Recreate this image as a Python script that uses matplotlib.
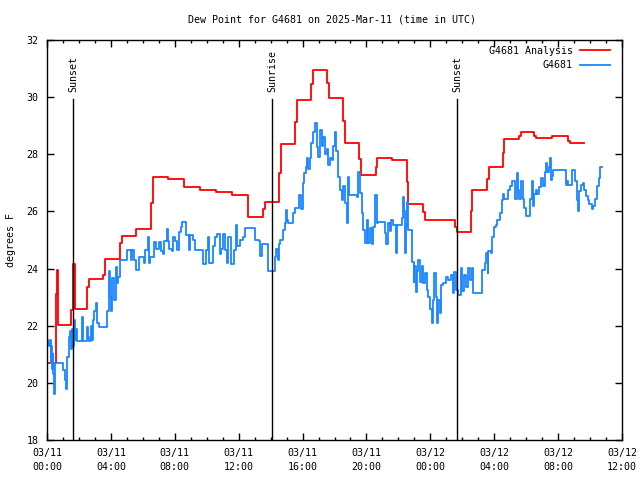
import matplotlib
matplotlib.use('Agg')
import matplotlib.pyplot as plt
from matplotlib.ticker import MultipleLocator

# hours since 03/11 00:00 UTC
analysis_t = [0.0, 0.54, 0.60, 0.69, 1.52, 1.60, 1.65, 1.73, 2.52, 2.60, 3.53, 3.63,
              4.57, 4.67, 5.55, 6.53, 6.62, 7.60, 8.58, 9.58, 10.58, 11.58, 12.57,
              13.55, 13.62, 14.55, 14.63, 15.55, 15.63, 16.55, 16.64, 17.55, 17.64,
              18.55, 18.64, 19.56, 19.64, 20.60, 20.64, 21.62, 22.56, 22.62, 23.56,
              23.65, 25.57, 25.67, 26.57, 26.63, 27.55, 27.66, 28.57, 28.64, 29.57,
              29.66, 30.51, 30.62, 31.60, 32.64, 32.77, 33.64]
analysis_v = [20.70, 23.10, 23.95, 22.02, 22.55, 23.60, 24.16, 22.58, 23.37, 23.63, 23.77, 24.32,
              24.90, 25.13, 25.37, 26.30, 27.19, 27.12, 26.84, 26.75, 26.67, 26.57, 25.79,
              26.10, 26.34, 27.33, 28.35, 29.14, 29.89, 30.45, 30.94, 30.48, 29.96,
              29.17, 28.40, 27.82, 27.26, 27.57, 27.86, 27.79, 27.04, 26.26, 25.99,
              25.70, 25.47, 25.28, 26.01, 26.74, 27.13, 27.54, 28.03, 28.52, 28.64,
              28.77, 28.65, 28.56, 28.64, 28.46, 28.38, 28.38]

obs_t = [0.00, 0.08, 0.15, 0.20, 0.23, 0.28, 0.32, 0.36, 0.40, 0.44, 0.50, 1.00, 1.11, 1.17,
         1.23, 1.40, 1.46, 1.50, 1.56, 1.62, 1.69, 1.75, 1.80, 1.88, 2.20, 2.25, 2.50, 2.56,
         2.65, 2.73, 2.80, 2.86, 2.92, 3.05, 3.12, 3.26, 3.74, 3.88, 3.93, 4.00, 4.10, 4.17,
         4.30, 4.38, 4.45, 4.60, 4.82, 4.99, 5.24, 5.35, 5.45, 5.55, 5.76, 6.07, 6.15, 6.32,
         6.36, 6.45, 6.70, 6.85, 7.01, 7.15, 7.25, 7.33, 7.49, 7.55, 7.65, 7.80, 7.91, 8.00,
         8.12, 8.25, 8.38, 8.45, 8.70, 8.90, 8.95, 9.15, 9.27, 9.79, 9.98, 10.05, 10.15,
         10.40, 10.52, 10.62, 10.80, 10.90, 11.04, 11.15, 11.25, 11.35, 11.50, 11.70, 11.85,
         11.92, 12.08, 12.25, 12.40, 13.05, 13.30, 13.34, 13.45, 13.86, 14.28, 14.36, 14.45,
         14.52, 14.60, 14.75, 14.88, 14.98, 15.05, 15.10, 15.38, 15.53, 15.80, 15.88, 16.00,
         16.10, 16.20, 16.28, 16.36, 16.45, 16.55, 16.65, 16.78, 16.88, 16.98, 17.09, 17.20,
         17.30, 17.40, 17.51, 17.62, 17.72, 17.82, 17.93, 18.05, 18.12, 18.24, 18.34, 18.45,
         18.55, 18.65, 18.76, 18.84, 18.92, 19.43, 19.50, 19.60, 19.72, 19.80, 19.90, 20.01,
         20.12, 20.22, 20.33, 20.43, 20.55, 20.64, 20.75, 21.16, 21.25, 21.38, 21.45, 21.55,
         21.69, 21.85, 21.92, 22.21, 22.27, 22.33, 22.40, 22.45, 22.52, 22.63, 22.84, 22.95,
         23.00, 23.08, 23.15, 23.25, 23.35, 23.45, 23.56, 23.67, 23.77, 23.88, 23.98, 24.08,
         24.15, 24.25, 24.33, 24.42, 24.50, 24.58, 24.65, 24.80, 25.00, 25.10, 25.30, 25.40,
         25.50, 25.62, 25.75, 25.92, 26.00, 26.10, 26.25, 26.38, 26.50, 26.58, 26.70, 27.22,
         27.43, 27.50, 27.58, 27.64, 27.80, 27.88, 28.00, 28.10, 28.20, 28.35, 28.47, 28.55,
         28.62, 28.89, 28.98, 29.10, 29.27, 29.33, 29.40, 29.50, 29.58, 29.68, 29.80, 29.88,
         29.97, 30.24, 30.35, 30.43, 30.52, 30.60, 30.70, 30.80, 30.95, 31.05, 31.15, 31.25,
         31.33, 31.42, 31.50, 31.55, 31.62, 31.70, 32.48, 32.55, 32.65, 32.85, 33.06, 33.18,
         33.25, 33.32, 33.42, 33.58, 33.64, 33.75, 33.85, 33.95, 34.10, 34.20, 34.30, 34.45,
         34.55, 34.65, 34.72]
obs_v = [21.50, 21.40, 21.30, 21.50, 20.70, 21.30, 20.50, 21.00, 20.30, 19.60, 20.70, 20.45, 20.10, 19.80,
         20.90, 21.60, 21.80, 21.20, 21.90, 21.30, 22.20, 21.50, 21.90, 21.45, 22.30, 21.45, 21.97, 21.60,
         21.45, 22.00, 21.50, 22.20, 22.50, 22.80, 22.10, 21.97, 22.50, 23.90, 23.00, 22.50, 23.66, 22.90,
         24.07, 23.50, 23.70, 24.30, 24.30, 24.65, 24.30, 24.65, 24.30, 23.95, 24.42, 24.20, 24.65, 25.10,
         24.20, 24.42, 24.94, 24.70, 24.94, 24.60, 24.50, 24.98, 25.37, 24.98, 24.70, 24.60, 25.10, 24.98,
         24.65, 25.29, 25.47, 25.63, 25.17, 24.65, 25.17, 25.00, 24.65, 24.15, 24.65, 25.10, 24.20,
         24.80, 25.10, 25.20, 24.50, 24.70, 25.20, 24.65, 24.20, 25.10, 24.15, 24.65, 25.51,
         24.80, 25.00, 25.10, 25.41, 25.00, 24.95, 24.45, 24.85, 23.92, 24.42, 24.70, 24.30,
         24.85, 25.00, 25.35, 25.58, 26.05, 25.70, 25.58, 25.93, 26.11, 26.57, 26.10, 26.98,
         27.33, 27.57, 27.86, 27.50, 27.86, 28.38, 28.79, 29.08, 28.27, 27.92, 28.85, 28.30,
         28.60, 28.00, 28.20, 27.62, 27.86, 27.80, 28.30, 28.79, 28.10, 27.22, 26.75, 26.40,
         26.90, 26.30, 25.58, 27.22, 26.57, 26.50, 27.39, 26.63, 25.93, 25.35, 24.88, 25.70,
         24.88, 25.41, 24.85, 25.45, 26.57, 25.58, 25.64, 25.25, 24.85, 25.58, 25.30, 25.70,
         25.52, 24.53, 25.52, 25.76, 26.52, 26.00, 24.53, 25.50, 26.34, 25.35, 24.24, 23.54,
         24.10, 23.19, 23.90, 24.30, 23.54, 24.10, 23.50, 23.85, 23.25, 23.02, 22.60, 22.08,
         22.90, 23.85, 23.02, 22.08, 22.90, 22.45, 23.42, 23.50, 23.72, 23.60, 23.77, 23.13,
         23.89, 23.25, 23.07, 24.01, 23.20, 23.77, 23.37, 24.01, 23.60, 24.01, 23.13, 23.95,
         24.18, 24.53, 23.85, 24.60, 24.53, 25.12, 25.47, 25.52, 25.70, 25.93, 26.40, 26.60,
         26.42, 26.75, 26.89, 27.07, 26.90, 26.42, 27.33, 26.75, 26.42, 27.07, 26.45, 26.13,
         25.84, 26.42, 27.07, 26.20, 26.60, 26.75, 26.60, 26.85, 27.16, 26.90, 27.39, 27.68,
         27.39, 27.55, 27.86, 27.10, 27.25, 27.45, 26.93, 27.05, 26.93, 27.45, 27.05, 26.40,
         26.01, 26.70, 26.93, 27.00, 26.75, 26.55, 26.40, 26.25, 26.08, 26.20, 26.45, 26.90,
         27.16, 27.54, 27.54]

sun_t = [1.65, 14.11, 25.69]
sun_labels = ['Sunset', 'Sunrise', 'Sunset']

x_ticks = [0, 4, 8, 12, 16, 20, 24, 28, 32, 36]
x_tick_labels = ['03/11\n00:00', '03/11\n04:00', '03/11\n08:00', '03/11\n12:00',
                 '03/11\n16:00', '03/11\n20:00', '03/12\n00:00', '03/12\n04:00',
                 '03/12\n08:00', '03/12\n12:00']

plt.rcParams['font.family'] = ['DejaVu Sans Mono']
plt.rcParams['font.size'] = 7.2

fig = plt.figure(figsize=(6.4, 4.8), dpi=100)
ax = fig.add_axes([47 / 640, 40 / 480, 575 / 640, 400 / 480])

ax.plot(analysis_t, analysis_v, drawstyle='steps-post', color='#ff0000', lw=1.3,
        label='G4681 Analysis')
ax.plot(obs_t, obs_v, drawstyle='steps-post', color='#1a86ff', lw=1.3, label='G4681')

for t, name in zip(sun_t, sun_labels):
    ax.axvline(t, ymin=0, ymax=0.853, color='black', lw=1)
    ax.text(t, 0.87, name, transform=ax.get_xaxis_transform(), rotation=90,
            ha='center', va='bottom')

ax.set_xlim(0, 36)
ax.set_ylim(18, 32)
ax.set_xticks(x_ticks)
ax.set_xticklabels(x_tick_labels, linespacing=1.5)
ax.xaxis.set_minor_locator(MultipleLocator(1))
ax.yaxis.set_major_locator(MultipleLocator(2))
ax.tick_params(which='both', direction='in', top=True, right=True, width=1)
ax.tick_params(which='major', length=5, pad=6)
ax.tick_params(which='minor', length=2.5)
for s in ax.spines.values():
    s.set_linewidth(1)

ax.set_ylabel('degrees F', labelpad=8)
fig.text(0.518, 0.96, 'Dew Point for G4681 on 2025-Mar-11 (time in UTC)',
         ha='center', va='center')

ax.legend(loc='upper right', bbox_to_anchor=(0.979, 0.985), markerfirst=False,
          frameon=False, handlelength=3.0, borderaxespad=0, borderpad=0,
          labelspacing=0.45, handletextpad=0.7)

fig.savefig('out.png', dpi=100)
